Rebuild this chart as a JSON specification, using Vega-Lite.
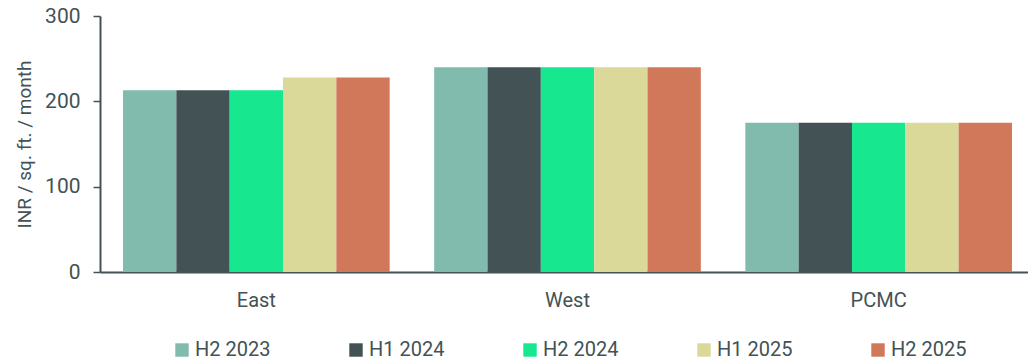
{
  "$schema": "https://vega.github.io/schema/vega-lite/v6.json",
  "width": 935,
  "height": 256,
  "autosize": {"type": "none"},
  "padding": {"left": 100, "top": 16, "right": 0, "bottom": 90},
  "background": "#ffffff",
  "config": {
    "font": "Roboto",
    "view": {"stroke": null},
    "axis": {"labelColor": "#435254", "titleColor": "#435254", "domainColor": "#435254", "tickColor": "#435254"}
  },
  "data": {
    "values": [
      {"region": "East", "period": "H2 2023", "rent": 213},
      {"region": "East", "period": "H1 2024", "rent": 213},
      {"region": "East", "period": "H2 2024", "rent": 213},
      {"region": "East", "period": "H1 2025", "rent": 228},
      {"region": "East", "period": "H2 2025", "rent": 228},
      {"region": "West", "period": "H2 2023", "rent": 240},
      {"region": "West", "period": "H1 2024", "rent": 240},
      {"region": "West", "period": "H2 2024", "rent": 240},
      {"region": "West", "period": "H1 2025", "rent": 240},
      {"region": "West", "period": "H2 2025", "rent": 240},
      {"region": "PCMC", "period": "H2 2023", "rent": 175},
      {"region": "PCMC", "period": "H1 2024", "rent": 175},
      {"region": "PCMC", "period": "H2 2024", "rent": 175},
      {"region": "PCMC", "period": "H1 2025", "rent": 175},
      {"region": "PCMC", "period": "H2 2025", "rent": 175}
    ]
  },
  "mark": {"type": "bar"},
  "encoding": {
    "x": {
      "field": "region",
      "type": "nominal",
      "sort": ["East", "West", "PCMC"],
      "scale": {"paddingInner": 0.143, "paddingOuter": 0.074},
      "axis": {
        "title": null,
        "labelAngle": 0,
        "labelFontSize": 20,
        "labelPadding": 18,
        "ticks": false,
        "domainWidth": 2
      }
    },
    "xOffset": {
      "field": "period",
      "type": "nominal",
      "sort": ["H2 2023", "H1 2024", "H2 2024", "H1 2025", "H2 2025"],
      "scale": {"paddingInner": 0, "paddingOuter": 0}
    },
    "y": {
      "field": "rent",
      "type": "quantitative",
      "scale": {"domain": [0, 300]},
      "axis": {
        "title": "INR / sq. ft. / month",
        "titleFontSize": 19,
        "titleFontWeight": "normal",
        "titlePadding": 10,
        "labelFontSize": 21,
        "labelPadding": 13,
        "values": [0, 100, 200, 300],
        "grid": false,
        "tickSize": 7,
        "tickWidth": 1.5,
        "domainWidth": 2
      }
    },
    "color": {
      "field": "period",
      "type": "nominal",
      "sort": ["H2 2023", "H1 2024", "H2 2024", "H1 2025", "H2 2025"],
      "scale": {
        "domain": ["H2 2023", "H1 2024", "H2 2024", "H1 2025", "H2 2025"],
        "range": ["#80bbad", "#435254", "#17e88f", "#dbd99a", "#d2785a"]
      },
      "legend": {
        "title": null,
        "orient": "none",
        "legendX": 72,
        "legendY": 324,
        "direction": "horizontal",
        "symbolType": "square",
        "symbolSize": 180,
        "symbolStrokeWidth": 0,
        "labelFontSize": 20,
        "labelColor": "#435254",
        "labelOffset": 3,
        "columnPadding": 75
      }
    }
  }
}
